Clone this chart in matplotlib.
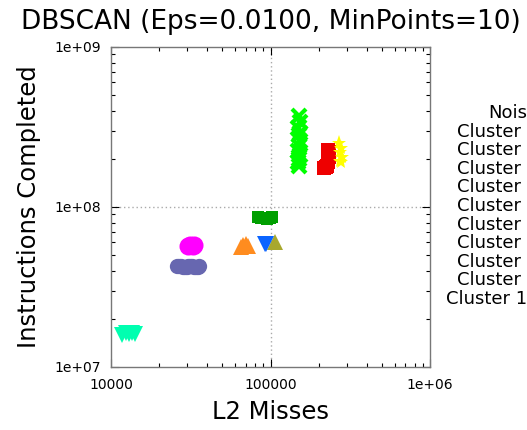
import matplotlib
matplotlib.use("Agg")
import matplotlib.pyplot as plt
from matplotlib.ticker import FixedLocator, FixedFormatter, LogLocator, NullFormatter

TITLE = "DBSCAN (Eps=0.0100, MinPoints=10)"
X_LABEL = "L2 Misses"
Y_LABEL = "Instructions Completed"

X_TICKS = [1e4, 1e5, 1e6]
X_TICK_LABELS = ["10000", "100000", "1e+06"]
Y_TICKS = [1e7, 1e8, 1e9]
Y_TICK_LABELS = ["1e+07", "1e+08", "1e+09"]

LEGEND_LABELS = ["Noise"] + [f"Cluster {i}" for i in range(1, 11)]

# points per cluster (L2 misses, instructions completed)
c1_x = [150000, 152000, 149000, 151000, 153000, 150500, 148500, 152500, 151500, 149500, 150000, 152000]
c1_y = [3.7e8, 3.4e8, 3.1e8, 2.8e8, 2.6e8, 2.4e8, 2.25e8, 2.1e8, 2.0e8, 1.9e8, 1.8e8, 2.9e8]

c2_x = [218000, 222000, 226000, 230000, 232000, 233000, 231000]
c2_y = [1.75e8, 1.78e8, 1.8e8, 1.9e8, 2.05e8, 2.2e8, 2.27e8]

c3_x = [270000, 278000, 274000, 281000, 272000, 276000]
c3_y = [2.5e8, 2.35e8, 2.2e8, 2.05e8, 1.95e8, 1.9e8]

c4_x = [83000, 87000, 91000, 95000, 99000, 102000]
c4_y = [8.6e7, 8.5e7, 8.5e7, 8.4e7, 8.5e7, 8.6e7]

c5_x = [30500, 31500, 32500, 33200]
c5_y = [5.7e7, 5.8e7, 5.7e7, 5.75e7]

c6_x = [26000, 26800, 27500, 28200, 29000, 29800, 30500, 31200, 32000, 33000, 34000, 35000, 35500]
c6_y = [4.25e7, 4.28e7, 4.3e7, 4.22e7, 4.2e7, 4.24e7, 4.25e7, 4.3e7, 4.28e7, 4.22e7, 4.2e7, 4.24e7, 4.25e7]

c7_x = [65000, 67500, 70000, 72000]
c7_y = [5.6e7, 5.8e7, 5.9e7, 5.7e7]

c8_x = [106700]
c8_y = [6.0e7]

c9_x = [92000, 94000]
c9_y = [5.9e7, 5.85e7]

c10_x = [11800, 12400, 13000, 13600, 14200]
c10_y = [1.58e7, 1.62e7, 1.6e7, 1.63e7, 1.6e7]

clusters = [
    (c1_x, c1_y, "x", "#00ff00", 10),
    (c2_x, c2_y, "s", "#ee0000", 10),
    (c3_x, c3_y, "*", "#ffff00", 11),
    (c4_x, c4_y, "s", "#009f00", 9),
    (c5_x, c5_y, "o", "#ff00ff", 13),
    (c6_x, c6_y, "o", "#6767b0", 11),
    (c7_x, c7_y, "^", "#ff8c1f", 11),
    (c8_x, c8_y, "^", "#a8a82e", 11),
    (c9_x, c9_y, "v", "#0a64ff", 11),
    (c10_x, c10_y, "v", "#00ffb0", 12),
]

fig = plt.figure(figsize=(5.27, 4.30), dpi=100)
ax = fig.add_axes([111 / 527, 1 - 367 / 430, 319 / 527, 320 / 430])

for xs, ys, mk, col, ms in clusters:
    if mk == "x":
        ax.plot(xs, ys, linestyle="none", marker=mk, color=col, markersize=ms, mew=3)
    else:
        ax.plot(xs, ys, linestyle="none", marker=mk, color=col, markersize=ms, mew=0)

ax.set_xscale("log")
ax.set_yscale("log")
ax.set_xlim(1e4, 1e6)
ax.set_ylim(1e7, 1e9)

ax.xaxis.set_major_locator(FixedLocator(X_TICKS))
ax.xaxis.set_major_formatter(FixedFormatter(X_TICK_LABELS))
ax.yaxis.set_major_locator(FixedLocator(Y_TICKS))
ax.yaxis.set_major_formatter(FixedFormatter(Y_TICK_LABELS))
for axis in (ax.xaxis, ax.yaxis):
    axis.set_minor_locator(LogLocator(base=10, subs=range(2, 10)))
    axis.set_minor_formatter(NullFormatter())

ax.tick_params(which="both", direction="in", top=True, right=True, colors="black", labelsize=10)
ax.tick_params(which="major", length=6, width=0.8)
ax.tick_params(which="minor", length=3, width=0.8)
ax.tick_params(axis="x", pad=8)
ax.tick_params(axis="y", pad=7)

for s in ax.spines.values():
    s.set_color("#777777")
    s.set_linewidth(1)

ax.axvline(1e5, color="#aaaaaa", linestyle=(0, (1, 2)), linewidth=1, zorder=0)
ax.axhline(1e8, color="#aaaaaa", linestyle=(0, (1, 2)), linewidth=1, zorder=0)

ax.set_title(TITLE, fontsize=19, pad=13)
ax.set_xlabel(X_LABEL, fontsize=17.5, labelpad=6)
ax.set_ylabel(Y_LABEL, fontsize=17.5, labelpad=10)

# right-aligned legend labels; the symbols sit past the right edge
for i, lab in enumerate(LEGEND_LABELS):
    y = 113 + i * 18.6
    fig.text(538 / 527, 1 - y / 430, lab, ha="right", va="center", fontsize=13)

fig.savefig("out.png", dpi=100)
